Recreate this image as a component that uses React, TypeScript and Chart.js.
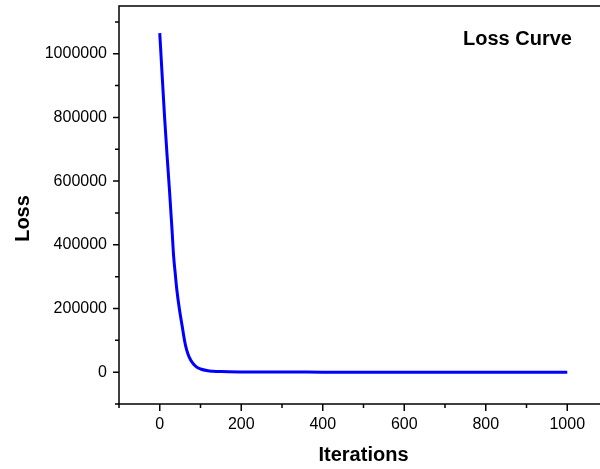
import React, { useEffect, useRef } from "react";
import { Chart, registerables } from "chart.js";

Chart.register(...registerables);

const iterations = [0, 6, 12, 18, 24, 30, 34, 38, 42, 48, 55, 61, 66, 72, 80, 90, 100, 118, 130, 150, 200, 260, 300, 400, 500, 600, 700, 800, 900, 1000];
const lossValues = [1065000, 930000, 798000, 680000, 569000, 450000, 365000, 310000, 258000, 200000, 145000, 98000, 70000, 48000, 30000, 16500, 10000, 4500, 3000, 1800, 700, 300, 200, 100, 60, 40, 30, 25, 20, 20];

const xTickValues = [-100, 0, 100, 200, 300, 400, 500, 600, 700, 800, 900, 1000, 1100];
const xLabelTicks = [0, 200, 400, 600, 800, 1000];
const yTickValues = [-100000, 0, 100000, 200000, 300000, 400000, 500000, 600000, 700000, 800000, 900000, 1000000, 1100000];
const yLabelTicks = [0, 200000, 400000, 600000, 800000, 1000000];

const xTitle = "Iterations";
const yTitle = "Loss";
const chartTitle = "Loss Curve";

const FONT = "'Liberation Sans', Arial, Helvetica, sans-serif";

const framePlugin = {
  id: "originFrame",
  afterDraw(chart: any) {
    const { ctx, chartArea, scales } = chart;
    const { left, top, right, bottom } = chartArea;
    const x = scales.x;
    const y = scales.y;
    ctx.save();
    ctx.strokeStyle = "#000";
    ctx.lineWidth = 1.5;
    ctx.strokeRect(left, top, right - left, bottom - top);
    ctx.beginPath();
    x.ticks.forEach((t: any) => {
      const px = x.getPixelForValue(t.value);
      const len = xLabelTicks.includes(t.value) ? 7 : 4;
      ctx.moveTo(px, bottom);
      ctx.lineTo(px, bottom + len);
    });
    y.ticks.forEach((t: any) => {
      const py = y.getPixelForValue(t.value);
      const len = yLabelTicks.includes(t.value) ? 6 : 4;
      ctx.moveTo(left, py);
      ctx.lineTo(left - len, py);
    });
    ctx.stroke();

    ctx.fillStyle = "#000";
    ctx.font = `bold 20px ${FONT}`;
    ctx.textAlign = "center";
    ctx.textBaseline = "alphabetic";
    ctx.fillText(xTitle, (left + right) / 2, 461);

    ctx.save();
    ctx.translate(29, 218.5);
    ctx.rotate(-Math.PI / 2);
    ctx.fillText(yTitle, 0, 0);
    ctx.restore();

    ctx.textAlign = "left";
    ctx.fillText(chartTitle, 463, 45);
    ctx.restore();
  },
};

export default function App() {
  const canvasRef = useRef<HTMLCanvasElement | null>(null);

  useEffect(() => {
    if (!canvasRef.current) return;
    const chart = new Chart(canvasRef.current, {
      type: "line",
      data: {
        datasets: [
          {
            label: yTitle,
            data: iterations.map((it, i) => ({ x: it, y: lossValues[i] })),
            borderColor: "#0000ff",
            backgroundColor: "#0000ff",
            borderWidth: 3,
            pointRadius: 0,
            cubicInterpolationMode: "monotone",
            fill: false,
          },
        ],
      },
      options: {
        animation: false,
        responsive: false,
        devicePixelRatio: 1,
        layout: { padding: { left: 0, top: 6, right: 12, bottom: 0 } },
        plugins: {
          legend: { display: false },
          title: { display: false },
          tooltip: { enabled: false },
        },
        scales: {
          x: {
            type: "linear",
            min: -100,
            max: 1100,
            grid: { display: false, drawTicks: false },
            border: { display: false },
            afterBuildTicks(scale: any) {
              scale.ticks = xTickValues.map((v) => ({ value: v }));
            },
            afterFit(scale: any) {
              scale.height = 65;
              scale.paddingLeft = 0;
              scale.paddingRight = 0;
              scale.paddingTop = 0;
              scale.paddingBottom = 0;
            },
            ticks: {
              autoSkip: false,
              maxRotation: 0,
              padding: 11,
              color: "#000",
              font: { family: FONT, size: 16 },
              callback: (v: any) => (xLabelTicks.includes(Number(v)) ? String(v) : ""),
            },
          },
          y: {
            type: "linear",
            min: -100000,
            max: 1150000,
            grid: { display: false, drawTicks: false },
            border: { display: false },
            afterBuildTicks(scale: any) {
              scale.ticks = yTickValues.map((v) => ({ value: v }));
            },
            afterFit(scale: any) {
              scale.width = 119;
              scale.paddingLeft = 0;
              scale.paddingRight = 0;
              scale.paddingTop = 0;
              scale.paddingBottom = 0;
            },
            ticks: {
              autoSkip: false,
              padding: 12,
              color: "#000",
              font: { family: FONT, size: 16 },
              callback: (v: any) => (yLabelTicks.includes(Number(v)) ? String(v) : ""),
            },
          },
        },
      },
      plugins: [framePlugin],
    } as any);
    return () => chart.destroy();
  }, []);

  return (
    <div
      style={{
        position: "fixed",
        left: 0,
        top: 0,
        width: 600,
        height: 469,
        overflow: "hidden",
        background: "#fff",
      }}
    >
      <canvas ref={canvasRef} width={620} height={469} style={{ display: "block" }} />
    </div>
  );
}
